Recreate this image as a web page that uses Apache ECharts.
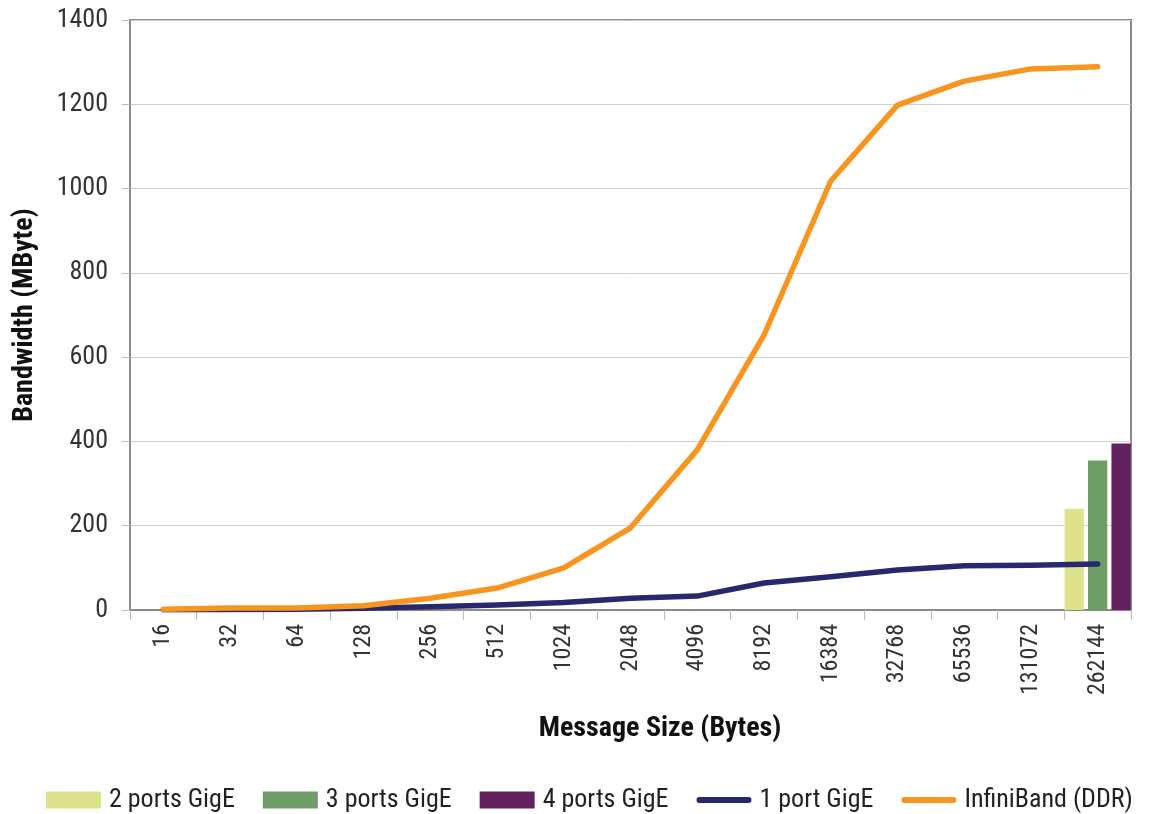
<!DOCTYPE html>
<html>
<head>
<meta charset="utf-8">
<title>Bandwidth vs Message Size</title>
<script src="https://cdn.jsdelivr.net/npm/echarts@6/dist/echarts.min.js"></script>
<style>
  html, body { margin: 0; padding: 0; background: #fff; }
  #chart { width: 1171px; height: 814px; }
</style>
</head>
<body>
<div id="chart"></div>
<script>
// Message sizes in bytes (category axis)
const messageSizes = ['16', '32', '64', '128', '256', '512', '1024', '2048', '4096',
  '8192', '16384', '32768', '65536', '131072', '262144'];

// Bandwidth in MByte
const infiniBand = [2, 5, 5, 10, 28, 52, 100, 195, 380, 652, 1018, 1198, 1255, 1284, 1289];
const onePortGigE = [0.5, 1, 1.5, 4, 8, 12, 18, 28, 33, 64, 79, 95, 105, 106, 109];

// Multi-port GigE results, measured only at the largest message size
const twoPortsGigE = [null, null, null, null, null, null, null, null, null, null, null, null, null, null, 240];
const threePortsGigE = [null, null, null, null, null, null, null, null, null, null, null, null, null, null, 355];
const fourPortsGigE = [null, null, null, null, null, null, null, null, null, null, null, null, null, null, 395];

const yTicks = { min: 0, max: 1400, interval: 200 };

const FONT = '"Roboto Condensed", "Liberation Sans Narrow", "Liberation Sans", sans-serif';

// Thick rounded stroke for line entries in the legend; the two stray points
// stretch the path's bounds to the full legend item box so the stroke keeps its height.
const LINE_ICON = 'path://M0,0L0.01,0M0,17L0.01,17M3,5.5L52,5.5A3,3,0,0,1,52,11.5L3,11.5A3,3,0,0,1,3,5.5Z';

const chart = echarts.init(document.getElementById('chart'), null, { renderer: 'canvas' });

const barSeries = (name, data, color) => ({
  name, type: 'bar', data,
  barGap: '22%', barCategoryGap: '1%',
  itemStyle: { color },
  emphasis: { disabled: true }
});

const lineSeries = (name, data, color) => ({
  name, type: 'line', data,
  symbol: 'none', smooth: false,
  lineStyle: { color, width: 5.5, cap: 'round', join: 'round' },
  itemStyle: { color },
  emphasis: { disabled: true }
});

chart.setOption({
  backgroundColor: '#ffffff',
  animation: false,
  textStyle: { fontFamily: FONT },
  title: [{
    text: 'Message Size (Bytes)',
    left: 655, top: 710, textAlign: 'center',
    textStyle: { fontFamily: FONT, fontSize: 28, fontWeight: 'bold', color: '#111' }
  }],
  grid: {
    left: 130, right: 40, top: 20, bottom: 204,
    outerBoundsMode: 'none',
    show: true, borderColor: '#8a8a8a', borderWidth: 2, backgroundColor: 'transparent'
  },
  legend: {
    top: 782, left: 41, width: 1125,
    itemWidth: 55, itemHeight: 17, itemGap: 28,
    textStyle: { fontFamily: FONT, fontSize: 26, color: '#222', padding: [0, 0, 0, 3] },
    data: [
      { name: '2 ports GigE', icon: 'rect' },
      { name: '3 ports GigE', icon: 'rect' },
      { name: '4 ports GigE', icon: 'rect' },
      { name: '1 port GigE', icon: LINE_ICON },
      { name: 'InfiniBand (DDR)', icon: LINE_ICON }
    ]
  },
  xAxis: {
    type: 'category',
    data: messageSizes,
    boundaryGap: true,
    axisLine: { show: true, lineStyle: { color: '#8a8a8a', width: 2 } },
    axisTick: { show: true, length: 10, lineStyle: { color: '#bbb', width: 1 } },
    axisLabel: { rotate: 90, margin: 14, fontFamily: FONT, fontSize: 24, color: '#333', interval: 0 },
    splitLine: { show: false }
  },
  yAxis: {
    type: 'value',
    min: yTicks.min, max: yTicks.max, interval: yTicks.interval,
    name: 'Bandwidth (MByte)',
    nameLocation: 'middle', nameGap: 91,
    nameTextStyle: { fontFamily: FONT, fontSize: 28, fontWeight: 'bold', color: '#111' },
    axisLine: { show: true, lineStyle: { color: '#8a8a8a', width: 2 } },
    axisTick: { show: true, length: 8, lineStyle: { color: '#bbb', width: 1 } },
    axisLabel: { margin: 22, fontFamily: FONT, fontSize: 26, color: '#333', formatter: v => String(v) },
    splitLine: { show: true, lineStyle: { color: '#d0d0d0', width: 1 } }
  },
  series: [
    barSeries('2 ports GigE', twoPortsGigE, '#dde38b'),
    barSeries('3 ports GigE', threePortsGigE, '#6f9d68'),
    barSeries('4 ports GigE', fourPortsGigE, '#62205f'),
    lineSeries('1 port GigE', onePortGigE, '#27296f'),
    lineSeries('InfiniBand (DDR)', infiniBand, '#f7951e')
  ]
});
</script>
</body>
</html>
